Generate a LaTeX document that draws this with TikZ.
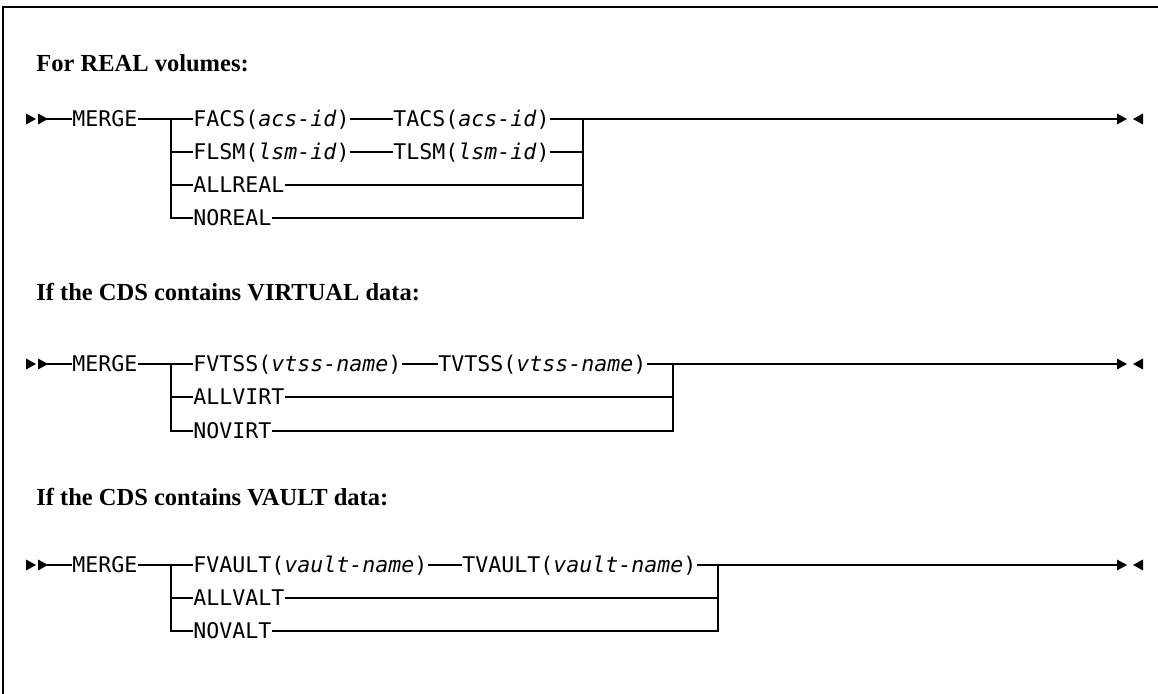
\documentclass[tikz,border=0pt]{standalone}
\usepackage{fontspec}
\setmonofont{DejaVu Sans Mono}[ItalicFont={DejaVu Sans Mono Oblique}]
\newfontfamily\headfont{Liberation Serif}
\usetikzlibrary{calc}

\tikzset{
  kw/.style={font=\ttfamily\fontsize{10.8}{13}\selectfont, inner sep=0pt,
    text height=9pt, text depth=1.13pt, anchor=west},
  head/.style={font=\headfont\bfseries\fontsize{12.25}{15}\selectfont,
    inner sep=0pt, anchor=base west},
  rail/.style={line width=0.7pt},
  pics/tipR/.style={code={\fill (0,-5.5) -- (10,0) -- (0,5.5) -- cycle;}},
  pics/tipL/.style={code={\fill (0,-5.5) -- (-10,0) -- (0,5.5) -- cycle;}}
}
\newcommand{\var}[1]{\textit{#1}}

\begin{document}
\begin{tikzpicture}[x=0.5pt,y=-0.5pt]
    \useasboundingbox (0,0) rectangle (1158,694);
    \draw[line width=0.9pt] (3,694) -- (3,7) -- (1158,7);

    % REAL volumes
    \node[head] (h1) at (36,72) {For REAL volumes:};
    \pic at (26,119) {tipR};
    \pic at (38,119) {tipR};
    \coordinate (s1) at (47,119);
    \node[kw] (m1) at (72,119) {MERGE};
    \node[kw] (facs) at (193,119) {FACS(\var{acs-id})};
    \node[kw] (tacs) at (393,119) {TACS(\var{acs-id})};
    \node[kw] (flsm) at (193,152) {FLSM(\var{lsm-id})};
    \node[kw] (tlsm) at (393,152) {TLSM(\var{lsm-id})};
    \node[kw] (allreal) at (193,185) {ALLREAL};
    \node[kw] (noreal) at (193,218) {NOREAL};
    \coordinate (l1) at (171,119);
    \coordinate (r1) at (583,119);
    \coordinate (e1) at (1117,119);
    \pic at (e1) {tipR};
    \pic at (1143,119) {tipL};

    \draw[rail] (s1) -- (m1.west);
    \draw[rail] (m1.east) -- (facs.west);
    \draw[rail] (facs.east) -- (tacs.west);
    \draw[rail] (tacs.east) -- (e1);
    \draw[rail] (flsm.east) -- (tlsm.west);
    \draw[rail] (l1) |- (noreal.west);
    \draw[rail] (r1) |- (noreal.east);
    \foreach \n in {flsm,allreal} {\draw[rail] (l1 |- \n.west) -- (\n.west);}
    \foreach \n in {tlsm,allreal} {\draw[rail] (\n.east) -- (r1 |- \n.east);}

    % VIRTUAL data
    \node[head] (h2) at (36,301) {If the CDS contains VIRTUAL data:};
    \pic at (26,364) {tipR};
    \pic at (38,364) {tipR};
    \coordinate (s2) at (47,364);
    \node[kw] (m2) at (72,364) {MERGE};
    \node[kw] (fvtss) at (193,364) {FVTSS(\var{vtss-name})};
    \node[kw] (tvtss) at (438,364) {TVTSS(\var{vtss-name})};
    \node[kw] (allvirt) at (193,397) {ALLVIRT};
    \node[kw] (novirt) at (193,431) {NOVIRT};
    \coordinate (l2) at (171,364);
    \coordinate (r2) at (673,364);
    \coordinate (e2) at (1117,364);
    \pic at (e2) {tipR};
    \pic at (1143,364) {tipL};

    \draw[rail] (s2) -- (m2.west);
    \draw[rail] (m2.east) -- (fvtss.west);
    \draw[rail] (fvtss.east) -- (tvtss.west);
    \draw[rail] (tvtss.east) -- (e2);
    \draw[rail] (l2) |- (novirt.west);
    \draw[rail] (r2) |- (novirt.east);
    \draw[rail] (l2 |- allvirt.west) -- (allvirt.west);
    \draw[rail] (allvirt.east) -- (r2 |- allvirt.east);

    % VAULT data
    \node[head] (h3) at (36,506) {If the CDS contains VAULT data:};
    \pic at (26,565) {tipR};
    \pic at (38,565) {tipR};
    \coordinate (s3) at (47,565);
    \node[kw] (m3) at (72,565) {MERGE};
    \node[kw] (fvault) at (193,565) {FVAULT(\var{vault-name})};
    \node[kw] (tvault) at (462,565) {TVAULT(\var{vault-name})};
    \node[kw] (allvalt) at (193,598) {ALLVALT};
    \node[kw] (novalt) at (193,631) {NOVALT};
    \coordinate (l3) at (171,565);
    \coordinate (r3) at (718,565);
    \coordinate (e3) at (1117,565);
    \pic at (e3) {tipR};
    \pic at (1143,565) {tipL};

    \draw[rail] (s3) -- (m3.west);
    \draw[rail] (m3.east) -- (fvault.west);
    \draw[rail] (fvault.east) -- (tvault.west);
    \draw[rail] (tvault.east) -- (e3);
    \draw[rail] (l3) |- (novalt.west);
    \draw[rail] (r3) |- (novalt.east);
    \draw[rail] (l3 |- allvalt.west) -- (allvalt.west);
    \draw[rail] (allvalt.east) -- (r3 |- allvalt.east);
\end{tikzpicture}
\end{document}
